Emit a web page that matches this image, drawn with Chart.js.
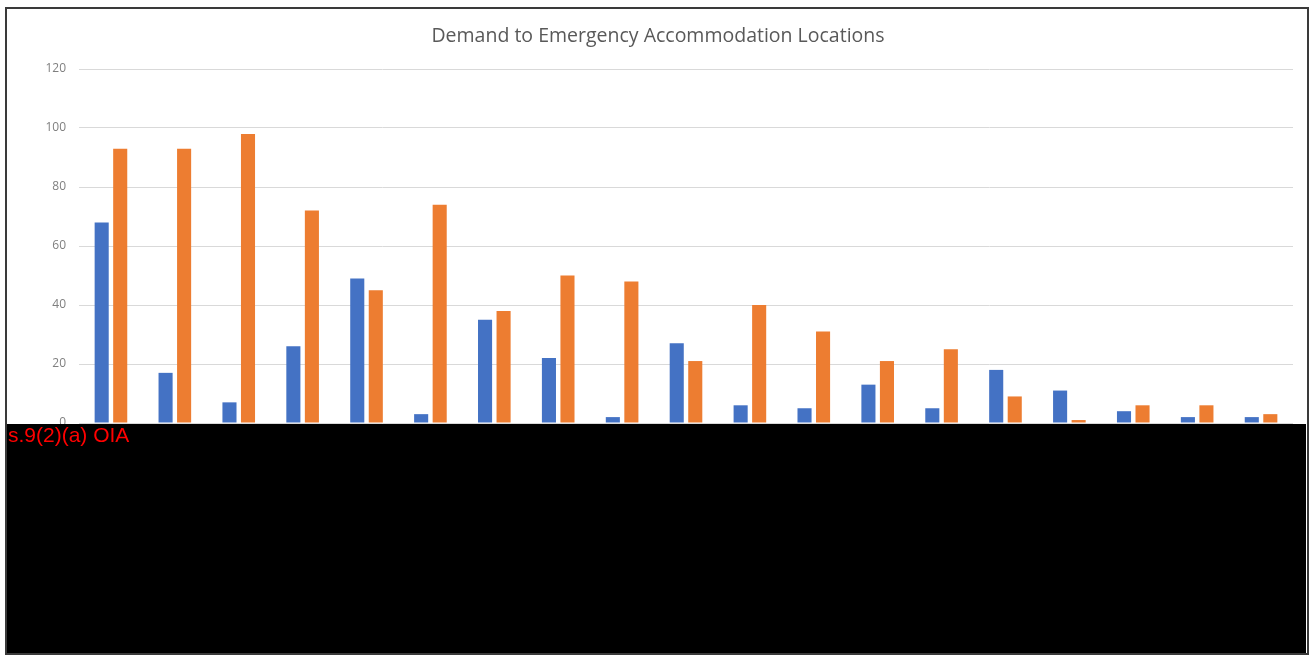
<!DOCTYPE html>
<html>
<head>
<meta charset="utf-8">
<script src="https://cdn.jsdelivr.net/npm/chart.js@4/dist/chart.umd.min.js"></script>
<style>
  html, body { margin: 0; padding: 0; background: #ffffff; }
  #wrap { position: relative; width: 1312px; height: 657px; overflow: hidden; }
  #chart { position: absolute; left: 0; top: 0; }
  #frame {
    position: absolute; left: 5px; top: 7px; width: 1300px; height: 644px;
    border: 2px solid #3a3a3a; pointer-events: none;
  }
  #redaction {
    position: absolute; left: 7px; top: 424px; width: 1299px; height: 229px;
    background: #000000;
  }
  #redaction span {
    position: absolute; left: 1px; top: 0px;
    font-family: "Liberation Sans", Arial, sans-serif; font-size: 21px;
    color: #ff0000; line-height: 22px; white-space: nowrap;
  }
</style>
</head>
<body>
<div id="wrap">
  <canvas id="chart" width="1312" height="657"></canvas>
  <div id="redaction"><span>s.9(2)(a) OIA</span></div>
  <div id="frame"></div>
</div>
<script>
// Location categories (names withheld under the redaction band)
const categories = ['1','2','3','4','5','6','7','8','9','10','11','12','13','14','15','16','17','18','19'];
// First series (blue)
const seriesBlue = [68, 17, 7, 26, 49, 3, 35, 22, 2, 27, 6, 5, 13, 5, 18, 11, 4, 2, 2];
// Second series (orange)
const seriesOrange = [93, 93, 98, 72, 45, 74, 38, 50, 48, 21, 40, 31, 21, 25, 9, 1, 6, 6, 3];
// Value axis ticks
const yTicks = [0, 20, 40, 60, 80, 100, 120];

const titleText = 'Demand to Emergency Accommodation Locations';

new Chart(document.getElementById('chart'), {
  type: 'bar',
  data: {
    labels: categories,
    datasets: [
      { label: 'Blue', data: seriesBlue, backgroundColor: '#4472C4', borderWidth: 0,
        categoryPercentage: 0.58, barPercentage: 0.76 },
      { label: 'Orange', data: seriesOrange, backgroundColor: '#ED7D31', borderWidth: 0,
        categoryPercentage: 0.58, barPercentage: 0.76 }
    ]
  },
  options: {
    responsive: false,
    animation: false,
    layout: { padding: { top: 13, right: 19, bottom: 234, left: 23 } },
    plugins: {
      legend: { display: false },
      tooltip: { enabled: false },
      title: {
        display: true,
        text: titleText,
        color: '#595959',
        font: { family: '"Open Sans", sans-serif', size: 19.5, weight: 'normal', lineHeight: 1.2 },
        padding: { top: 12, bottom: 20.6 }
      }
    },
    scales: {
      x: { display: false },
      y: {
        min: yTicks[0],
        max: yTicks[yTicks.length - 1],
        afterFit: (scale) => { scale.width = 56; },
        afterBuildTicks: (scale) => { scale.ticks = yTicks.map(v => ({ value: v })); },
        border: { display: false },
        grid: { color: '#d9d9d9', drawTicks: false, lineWidth: 1 },
        ticks: {
          padding: 13,
          color: '#7f7f7f',
          font: { family: '"Open Sans", sans-serif', size: 12 }
        }
      }
    }
  }
});
</script>
</body>
</html>
